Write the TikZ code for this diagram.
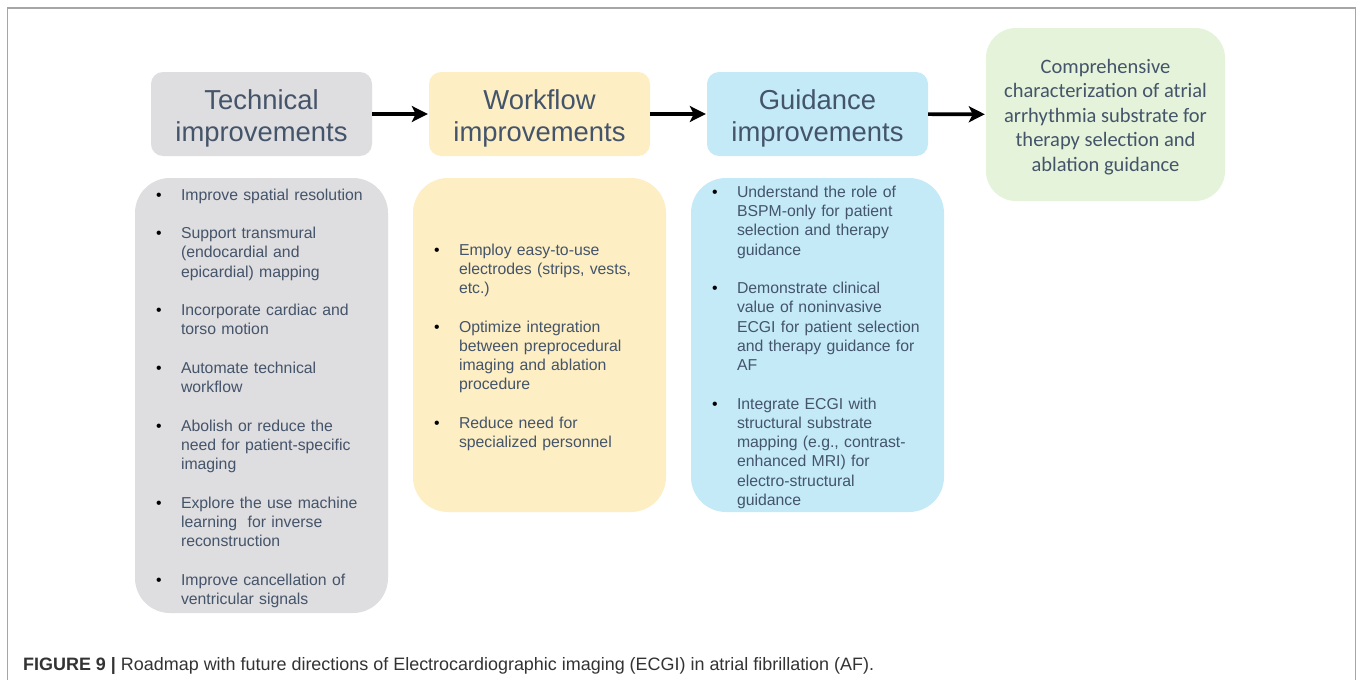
\documentclass[tikz,border=0pt]{standalone}
\usepackage{fontspec}
\setmainfont{Liberation Sans}
\newfontfamily\calib{Carlito}
\usetikzlibrary{arrows.meta}
\definecolor{txt}{HTML}{44546A}
\definecolor{greyc}{HTML}{DEDDDF}
\definecolor{yellowc}{HTML}{FDEEC3}
\definecolor{bluec}{HTML}{C4EAF8}
\definecolor{greenc}{HTML}{E4F3D9}
\definecolor{framec}{HTML}{A6A6A6}
\definecolor{capc}{HTML}{333333}
\newcommand\bu{\textcolor{black}{\textbullet}}
\tikzset{
  hdr/.style={rounded corners=12pt, minimum width=221pt, minimum height=84pt, inner sep=0pt},
  hdrtext/.style={align=center, font=\fontsize{27.4}{32}\selectfont, text=txt, inner sep=0pt},
  listbox/.style={rounded corners=35pt, minimum width=253pt, text width=211pt, inner xsep=21pt,
    inner ysep=0pt, align=left, font=\fontsize{15.8}{19.25}\selectfont, text=txt},
  arr/.style={-{Stealth[length=16pt,width=16pt,inset=4pt]}, line width=3.6pt, black, shorten >=1pt}
}
\begin{document}
\begin{tikzpicture}[x=1pt,y=-1pt]
\useasboundingbox (0,0) rectangle (1361,680);
\fill[white] (0,0) rectangle (1361,680);
\draw[framec, line width=1.3pt] (7.5,680) -- (7.5,8) -- (1355.5,8) -- (1355.5,680);

\node[hdr, fill=greyc] (tech) at (261.5,114) {};
\node[hdr, fill=yellowc] (work) at (539.5,114) {};
\node[hdr, fill=bluec] (guid) at (817.5,114) {};
\node[hdrtext] (techt) at (261.5,118) {Technical\\improvements};
\node[hdrtext] (workt) at (539.5,118) {Workflow\\improvements};
\node[hdrtext] (guidt) at (817.5,118) {Guidance\\improvements};

\node[fill=greenc, rounded corners=30pt, minimum width=239pt, minimum height=173pt, inner sep=0pt] (goal) at (1105.5,114.5) {};
\node[align=center, inner sep=0pt, text=txt, font=\calib\fontsize{20.5}{24.5}\selectfont] (goalt) at (1105.5,117)
  {Comprehensive\\characterization of atrial\\arrhythmia substrate for\\therapy selection and\\ablation guidance};

\draw[arr] (tech) -- (work);
\draw[arr] (work) -- (guid);
\draw[arr] (guid) -- (goal);

\node[listbox, fill=greyc, minimum height=435pt] (techlist) at (261.5,395.5) {};
\node[listbox, fill=yellowc, minimum height=334pt] (worklist) at (539.5,345) {};
\node[listbox, fill=bluec, minimum height=334pt] (guidlist) at (817.5,345) {};

\node[listbox] (techtext) at (261.5,398.5) {%
\begin{tabular}{@{}p{25pt}@{}l@{}}
\bu & Improve spatial resolution\\[19.25pt]
\bu & Support transmural\\
    & (endocardial and\\
    & epicardial) mapping\\[19.25pt]
\bu & Incorporate cardiac and\\
    & torso motion\\[19.25pt]
\bu & Automate technical\\
    & workflow\\[19.25pt]
\bu & Abolish or reduce the\\
    & need for patient-specific\\
    & imaging\\[19.25pt]
\bu & Explore the use machine\\
    & learning\ \ for inverse\\
    & reconstruction\\[19.25pt]
\bu & Improve cancellation of\\
    & ventricular signals
\end{tabular}};

\node[listbox] (worktext) at (539.5,347.5) {%
\begin{tabular}{@{}p{25pt}@{}l@{}}
\bu & Employ easy-to-use\\
    & electrodes (strips, vests,\\
    & etc.)\\[19.25pt]
\bu & Optimize integration\\
    & between preprocedural\\
    & imaging and ablation\\
    & procedure\\[19.25pt]
\bu & Reduce need for\\
    & specialized personnel
\end{tabular}};

\node[listbox] (guidtext) at (817.5,347.5) {%
\begin{tabular}{@{}p{25pt}@{}l@{}}
\bu & Understand the role of\\
    & BSPM-only for patient\\
    & selection and therapy\\
    & guidance\\[19.25pt]
\bu & Demonstrate clinical\\
    & value of noninvasive\\
    & ECGI for patient selection\\
    & and therapy guidance for\\
    & AF\\[19.25pt]
\bu & Integrate ECGI with\\
    & structural substrate\\
    & mapping (e.g., contrast-\\
    & enhanced MRI) for\\
    & electro-structural\\
    & guidance
\end{tabular}};

\node[anchor=base west, inner sep=0pt, text=capc, font=\fontsize{17.95}{20}\selectfont] (cap) at (23,670)
  {\textbf{FIGURE 9 |} Roadmap with future directions of Electrocardiographic imaging (ECGI) in atrial fibrillation (AF).};
\end{tikzpicture}
\end{document}
